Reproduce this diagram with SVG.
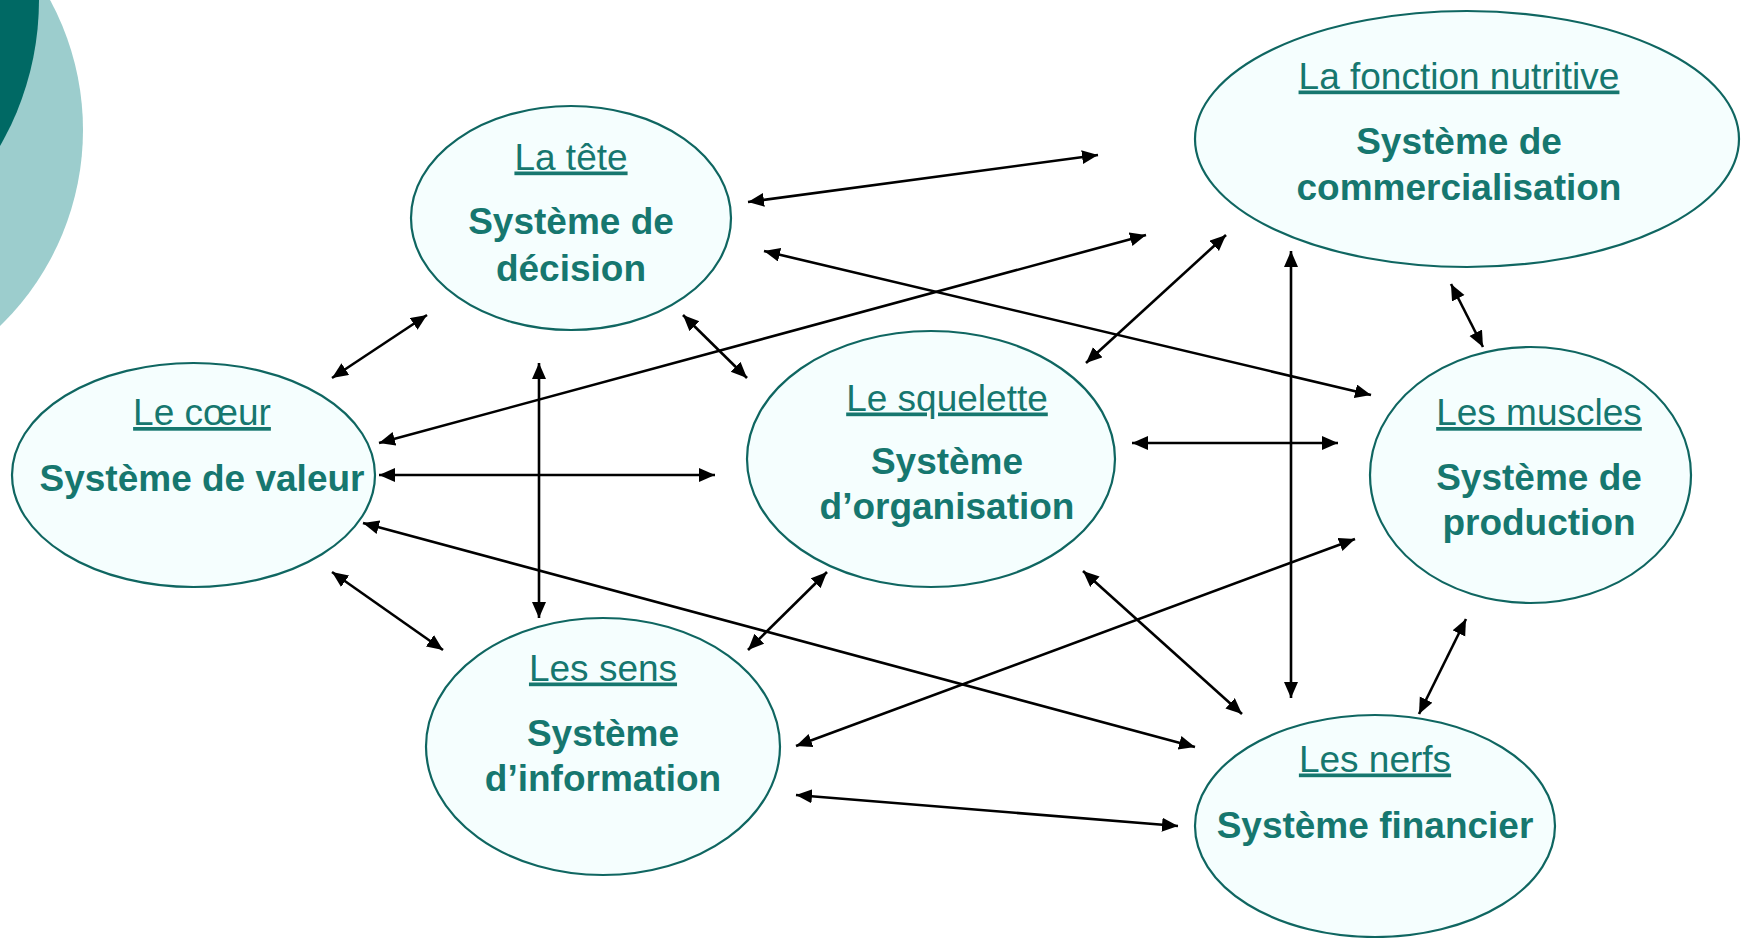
<svg xmlns="http://www.w3.org/2000/svg" width="1746" height="938" viewBox="0 0 1746 938">
<style>
.node ellipse{fill:#F5FEFE;stroke:#0F6661;stroke-width:2.2}
.t{font-family:"Liberation Sans",Arial,sans-serif;font-size:37px;fill:#16776F;text-anchor:middle;text-decoration:underline}
.b{font-family:"Liberation Sans",Arial,sans-serif;font-size:37px;font-weight:bold;fill:#16776F;text-anchor:middle}
#connectors line{stroke:#000;stroke-width:2.6;marker-start:url(#ah);marker-end:url(#ah)}
</style>
<defs>
<marker id="ah" markerUnits="userSpaceOnUse" markerWidth="17" markerHeight="15" refX="16" refY="7" orient="auto-start-reverse" viewBox="0 0 17 15">
<path d="M0,0 L16,7 L0,14 z" fill="#000"/>
</marker>
</defs>
<rect width="1746" height="938" fill="#FFFFFF"/>
<g id="background">
<circle cx="-190" cy="130" r="273" fill="#9CCDCD"/>
<circle cx="-254" cy="0" r="293" fill="#006964"/>
</g>
<g id="connectors">
<line x1="748" y1="202" x2="1098" y2="155"/>
<line x1="764" y1="251" x2="1371" y2="395"/>
<line x1="379" y1="443" x2="1146" y2="235"/>
<line x1="1086" y1="363" x2="1226" y2="235"/>
<line x1="1291" y1="251" x2="1291" y2="698"/>
<line x1="1451" y1="284" x2="1483" y2="347"/>
<line x1="332" y1="378" x2="427" y2="315"/>
<line x1="683" y1="315" x2="747" y2="378"/>
<line x1="539" y1="363" x2="539" y2="618"/>
<line x1="379" y1="475" x2="715" y2="475"/>
<line x1="1132" y1="443" x2="1338" y2="443"/>
<line x1="363" y1="523" x2="1195" y2="747"/>
<line x1="332" y1="572" x2="443" y2="650"/>
<line x1="748" y1="650" x2="827" y2="572"/>
<line x1="1083" y1="571" x2="1242" y2="714"/>
<line x1="796" y1="746" x2="1355" y2="539"/>
<line x1="796" y1="795" x2="1178" y2="826"/>
<line x1="1466" y1="619" x2="1419" y2="714"/>
</g>
<g id="tete" class="node">
<ellipse cx="571" cy="218" rx="160" ry="112"/>
<text class="t" x="571" y="169.5">La tête</text>
<text class="b" x="571" y="234">Système de</text>
<text class="b" x="571" y="280.5">décision</text>
</g>
<g id="coeur" class="node">
<ellipse cx="193.5" cy="475" rx="181.5" ry="112"/>
<text class="t" x="202" y="425">Le cœur</text>
<text class="b" x="202" y="491">Système de valeur</text>
</g>
<g id="fonction" class="node">
<ellipse cx="1467" cy="139" rx="272" ry="128"/>
<text class="t" x="1459" y="88.5">La fonction nutritive</text>
<text class="b" x="1459" y="154">Système de</text>
<text class="b" x="1459" y="199.5">commercialisation</text>
</g>
<g id="squelette" class="node">
<ellipse cx="931" cy="459" rx="184" ry="128"/>
<text class="t" x="947" y="410.5">Le squelette</text>
<text class="b" x="947" y="473.5">Système</text>
<text class="b" x="947" y="519">d’organisation</text>
</g>
<g id="muscles" class="node">
<ellipse cx="1530.5" cy="475" rx="160.5" ry="128"/>
<text class="t" x="1539" y="425">Les muscles</text>
<text class="b" x="1539" y="490">Système de</text>
<text class="b" x="1539" y="534.5">production</text>
</g>
<g id="sens" class="node">
<ellipse cx="603" cy="746.5" rx="177" ry="128.5"/>
<text class="t" x="603" y="680.5">Les sens</text>
<text class="b" x="603" y="745.5">Système</text>
<text class="b" x="603" y="791">d’information</text>
</g>
<g id="nerfs" class="node">
<ellipse cx="1375" cy="826" rx="180" ry="111"/>
<text class="t" x="1375" y="771.5">Les nerfs</text>
<text class="b" x="1375" y="838">Système financier</text>
</g>
</svg>
